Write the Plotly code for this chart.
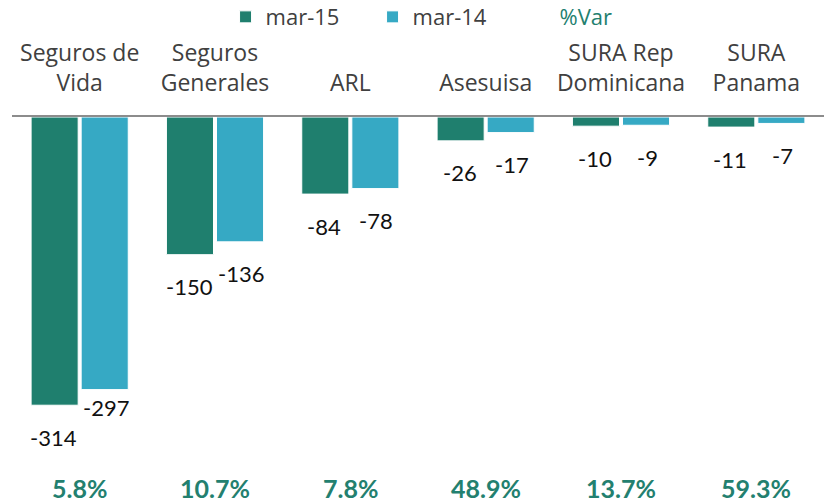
import plotly.graph_objects as go

categories = ["Seguros de<br>Vida", "Seguros<br>Generales", "ARL", "Asesuisa",
              "SURA Rep<br>Dominicana", "SURA<br>Panama"]
mar15 = [-314, -150, -84, -26, -10, -11]
mar14 = [-297, -136, -78, -17, -9, -7]
pct_var = ["5.8%", "10.7%", "7.8%", "48.9%", "13.7%", "59.3%"]

C15 = "#1F7F6E"
C14 = "#36A9C4"
CVAR = "#23806F"
GREY = "#404040"
FONT = "'Open Sans', Lato, sans-serif"
NUMFONT = "Lato, 'Open Sans', sans-serif"

fig = go.Figure()
fig.add_trace(go.Bar(x=categories, y=mar15, name="mar-15", marker=dict(color=C15, line=dict(color="white", width=1))))
fig.add_trace(go.Bar(x=categories, y=mar14, name="mar-14", marker=dict(color=C14, line=dict(color="white", width=1))))
fig.add_trace(go.Scatter(x=[None], y=[None], mode="lines", line=dict(color="rgba(0,0,0,0)", width=0),
                         name=f"<span style='color:{CVAR}'>%Var</span>"))

annotations = []
for i, c in enumerate(categories):
    for vals, xs in ((mar15, -26), (mar14, 26)):
        v = vals[i]
        ys = -32
        if v == -297:
            ys = -18
        annotations.append(dict(x=c, y=v, xref="x", yref="y", text=str(v), showarrow=False,
                                xshift=xs, yshift=ys, yanchor="middle",
                                font=dict(family=NUMFONT, size=22, color="#111111")))
    annotations.append(dict(x=c, y=0.024, xref="x", yref="paper", text=f"<b>{pct_var[i]}</b>",
                            showarrow=False, yanchor="middle",
                            font=dict(family=NUMFONT, size=25, color=CVAR)))

fig.update_layout(
    width=824, height=502,
    margin=dict(l=12, r=0, t=117, b=5, autoexpand=False),
    paper_bgcolor="white", plot_bgcolor="white",
    barmode="group", bargap=0.26, bargroupgap=0.06,
    font=dict(family=FONT, size=22, color=GREY),
    showlegend=True,
    legend=dict(orientation="h", x=0.263, xanchor="left", y=1.263, yanchor="middle",
                entrywidth=102, entrywidthmode="pixels",
                font=dict(family=FONT, size=22, color=GREY), bgcolor="rgba(0,0,0,0)"),
    annotations=annotations,
)
fig.update_xaxes(side="top", showgrid=False, showline=True, linecolor="#8C8C8C", linewidth=2,
                 ticks="", ticklabelstandoff=15, automargin=False,
                 tickfont=dict(family=FONT, size=23, color=GREY))
fig.update_yaxes(range=[-414, 0], visible=False, showgrid=False, zeroline=False, automargin=False)

# remove the browser's default 8px body margin so the figure fills the window
fig.write_html("out.html", config={"displayModeBar": False},
               post_script="document.body.style.margin='0';")
